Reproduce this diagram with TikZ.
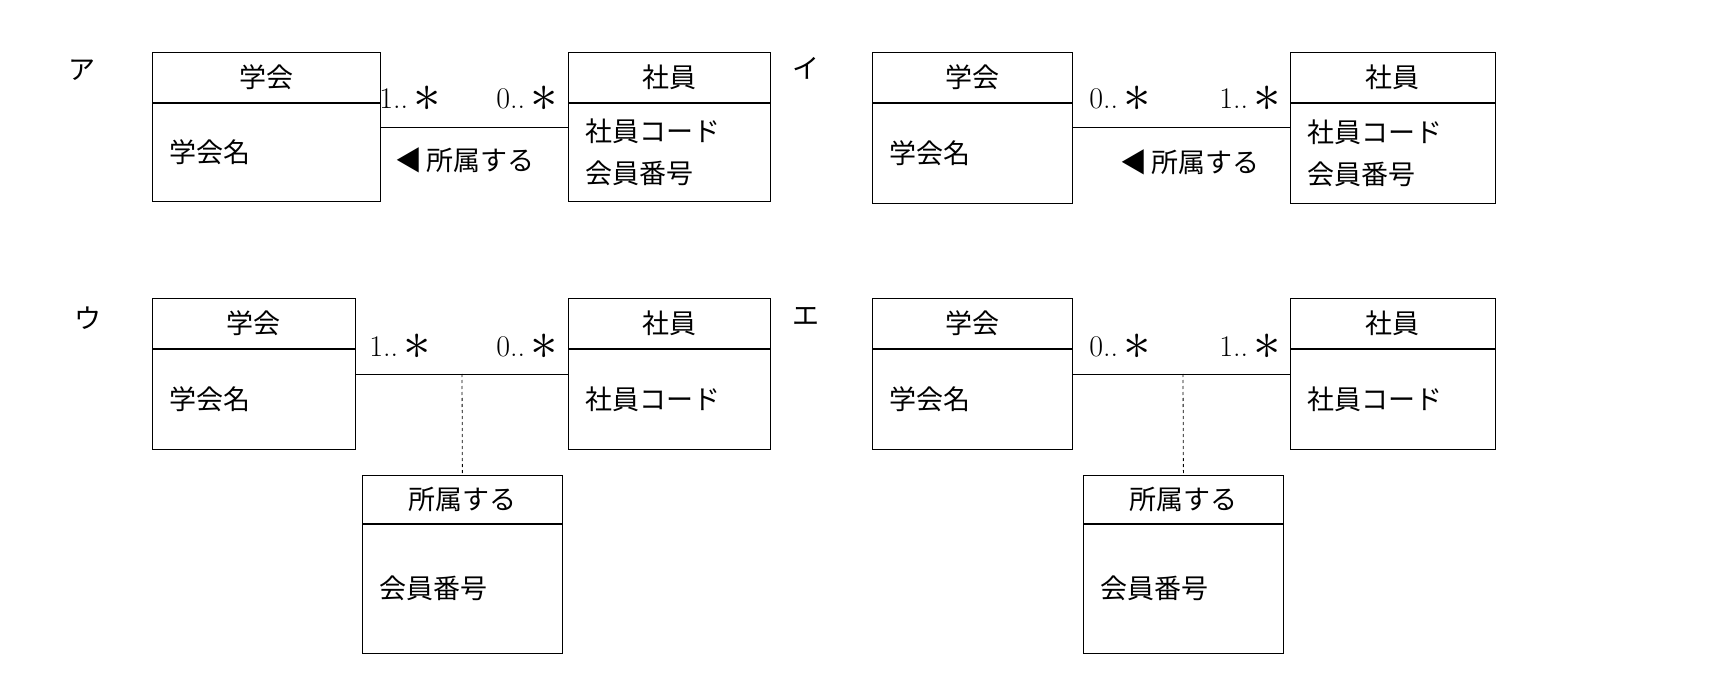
\documentclass[tikz,border=0pt]{standalone}
\usepackage{fontspec}
\newfontfamily\cjk{Noto Sans CJK JP}
\usetikzlibrary{positioning}
\tikzset{
  cls/.style={draw, thick, anchor=north west, inner sep=0pt},
  body/.style={anchor=west, align=left, font=\cjk\fontsize{27}{42}\selectfont},
  ttl/.style={font=\cjk\fontsize{27}{30}\selectfont},
  mult/.style={font=\fontsize{30}{30}\selectfont},
  lbl/.style={font=\cjk\fontsize{27}{30}\selectfont},
  assoc/.style={thick},
  link/.style={thick, dashed}
}
\newcommand{\st}{\,\raisebox{-0.25ex}{\scalebox{2.2}{$\ast$}}}
% #1 name, #2 x, #3 y, #4 width, #5 header height, #6 body height, #7 title, #8 body
\newcommand{\umlcls}[8]{%
  \node[cls, minimum width=#4, minimum height=#5] (#1h) at (#2,#3) {};
  \node[ttl] at (#1h.center) {#7};
  \node[cls, minimum width=#4, minimum height=#6] (#1) at (#1h.south west) {};
  \node[body] (#1t) at ([xshift=14pt]#1.west) {#8};
}
\begin{document}
\begin{tikzpicture}[x=1pt,y=-1pt]
\useasboundingbox (0,0) rectangle (1718,700);
% ---- ア
\node[lbl] (la) at (82,70) {ア};
\umlcls{aG}{152}{52}{228}{50}{98}{学会}{学会名}
\umlcls{aS}{568}{52}{202}{50}{98}{社員}{社員コード\\会員番号}
\draw[assoc] (aG.east |- 0,127) coordinate (aL) -- (aS.west |- aL);
\node[mult] at (410,99) {1..\st};
\node[mult] at (527,99) {0..\st};
\node[lbl] at (465,160) {◀\,所属する};
% ---- イ
\node[lbl] (li) at (806,68) {イ};
\umlcls{iG}{872}{52}{200}{50}{100}{学会}{学会名}
\umlcls{iS}{1290}{52}{205}{50}{100}{社員}{社員コード\\会員番号}
\draw[assoc] (iG.east |- 0,127) coordinate (iL) -- (iS.west |- iL);
\node[mult] at (1120,99) {0..\st};
\node[mult] at (1250,99) {1..\st};
\node[lbl] at (1190,162) {◀\,所属する};
% ---- ウ
\node[lbl] (lu) at (88,318) {ウ};
\umlcls{uG}{152}{298}{203}{50}{100}{学会}{学会名}
\umlcls{uS}{568}{298}{202}{50}{100}{社員}{社員コード}
\umlcls{uA}{362}{475}{200}{48}{129}{所属する}{会員番号}
\draw[assoc] (uG.east |- 0,374) coordinate (uL) -- (uS.west |- uL);
\coordinate (uM) at (462,374);
\draw[link] (uM) -- (uAh.north);
\node[mult] at (400,347) {1..\st};
\node[mult] at (527,347) {0..\st};
% ---- エ
\node[lbl] (le) at (806,316) {エ};
\umlcls{eG}{872}{298}{200}{50}{100}{学会}{学会名}
\umlcls{eS}{1290}{298}{205}{50}{100}{社員}{社員コード}
\umlcls{eA}{1083}{475}{200}{48}{129}{所属する}{会員番号}
\draw[assoc] (eG.east |- 0,374) coordinate (eL) -- (eS.west |- eL);
\coordinate (eM) at (1183,374);
\draw[link] (eM) -- (eAh.north);
\node[mult] at (1120,347) {0..\st};
\node[mult] at (1250,347) {1..\st};
\end{tikzpicture}
\end{document}
